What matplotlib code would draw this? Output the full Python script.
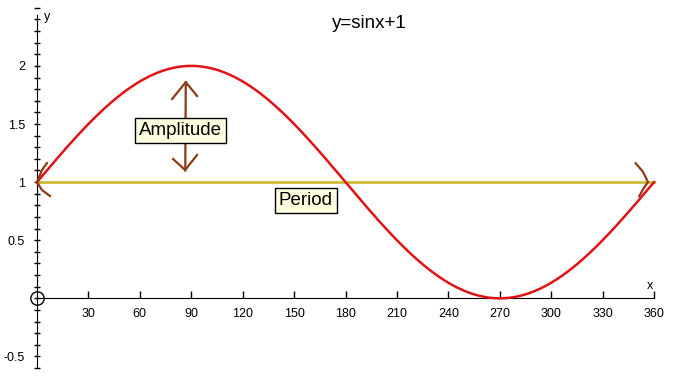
import numpy as np
import matplotlib.pyplot as plt
from matplotlib.ticker import FixedLocator, MultipleLocator

plt.rcParams['font.family'] = ['Liberation Sans', 'DejaVu Sans']

# curve y = sin(x) + 1, x in degrees
x_deg = np.arange(0, 361, 1)
y_vals = np.sin(np.radians(x_deg)) + 1
period_x = [0, 360]
period_y = [1, 1]

x_ticks = [30, 60, 90, 120, 150, 180, 210, 240, 270, 300, 330, 360]
y_ticks = [-0.5, 0.5, 1, 1.5, 2]
y_labels = ['-0.5', '0.5', '1', '1.5', '2']

# hand drawn arrows (data coords)
amp_shaft_x = [86.8, 86.5]
amp_shaft_y = [1.86, 1.10]
amp_top_x = [78.8, 86.8, 93.4]
amp_top_y = [1.715, 1.86, 1.741]
amp_bot_x = [79.4, 86.4, 93.4]
amp_bot_y = [1.199, 1.104, 1.234]
left_head_x = [5.8, 2.9, 0.0, 2.9, 7.6]
left_head_y = [1.164, 1.104, 1.0, 0.932, 0.880]
right_head_x = [349.3, 353.5, 356.5, 354.0, 351.4]
right_head_y = [1.162, 1.09, 1.0, 0.95, 0.880]

red = '#e01414'
yellow = '#cbb82c'
brown = '#8c3c14'

fig = plt.figure(figsize=(6.77, 3.77), dpi=100)
ax = fig.add_axes([0, 0, 1, 1])
ax.set_xlim(-21.59, 373.4)
ax.set_ylim(-0.677, 2.567)

for s in ['top', 'right']:
    ax.spines[s].set_visible(False)
ax.spines['left'].set_position(('data', 0))
ax.spines['bottom'].set_position(('data', 0))
ax.spines['left'].set_bounds(-0.59, 2.44)
ax.spines['bottom'].set_bounds(0, 360)

ax.xaxis.set_major_locator(FixedLocator(x_ticks))
ax.yaxis.set_major_locator(FixedLocator(y_ticks))
ax.yaxis.set_major_formatter(plt.FixedFormatter(y_labels))
ax.yaxis.set_minor_locator(MultipleLocator(0.1))
ax.tick_params(axis='x', direction='in', length=5, width=1, pad=7, labelsize=9)
ax.tick_params(axis='y', which='both', direction='inout', length=5, width=1, pad=6, labelsize=9)

ax.plot(period_x, period_y, color=yellow, lw=1.9, zorder=2)
ax.plot(x_deg, y_vals, color=red, lw=1.8, zorder=3)

ax.plot([0], [0], 'o', ms=9.6, mfc='none', mec='black', mew=1, clip_on=False, zorder=4)

ax.plot(amp_shaft_x, amp_shaft_y, color=brown, lw=1.6, zorder=4)
ax.plot(amp_top_x, amp_top_y, color=brown, lw=1.6, zorder=4)
ax.plot(amp_bot_x, amp_bot_y, color=brown, lw=1.6, zorder=4)
ax.plot(left_head_x, left_head_y, color=brown, lw=1.6, zorder=4)
ax.plot(right_head_x, right_head_y, color=brown, lw=1.6, zorder=4)

box = dict(boxstyle='square,pad=0.22', fc='#ffffe0', ec='black', lw=1)
ax.text(83.6, 1.446, 'Amplitude', fontsize=13.5, ha='center', va='center', bbox=box, zorder=5)
ax.text(156.9, 0.84, 'Period', fontsize=13.5, ha='center', va='center', bbox=box, zorder=5)

ax.text(193.7, 2.369, 'y=sinx+1', fontsize=13.5, ha='center', va='center')
ax.text(5.8, 2.42, 'y', fontsize=9, ha='center', va='center')
ax.text(357.7, 0.106, 'x', fontsize=9, ha='center', va='center')

fig.savefig('out.png', dpi=100)
